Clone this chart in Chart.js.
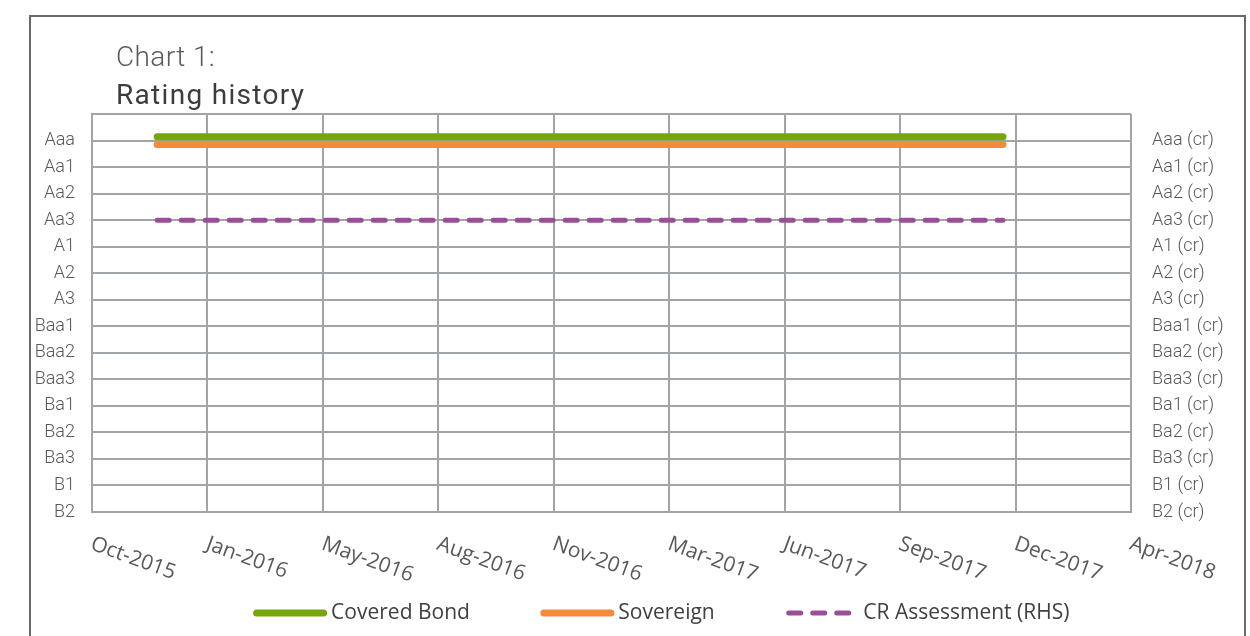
<!DOCTYPE html>
<html>
<head>
<meta charset="utf-8">
<title>Rating history</title>
<script src="https://cdn.jsdelivr.net/npm/chart.js@4.4.0/dist/chart.umd.min.js"></script>
<style>
  html, body { margin: 0; padding: 0; background: #ffffff; overflow: hidden; }
  #wrap { position: relative; width: 1250px; height: 636px; }
  #frame { position: absolute; left: 29px; top: 15px; width: 1217px; height: 700px;
           box-sizing: border-box; border: 2px solid #6a6a6a; }
  #c { position: absolute; left: 0; top: 0; }
</style>
</head>
<body>
<div id="wrap">
  <div id="frame"></div>
  <canvas id="c" width="1250" height="636"></canvas>
</div>
<script>
// ---- data ----
const titleLines = ['Chart 1:', 'Rating history'];

// rating scale, lowest first (value 0 = B2)
const ratingLabels = ['B2', 'B1', 'Ba3', 'Ba2', 'Ba1', 'Baa3', 'Baa2', 'Baa1',
                      'A3', 'A2', 'A1', 'Aa3', 'Aa2', 'Aa1', 'Aaa'];
const crLabels = ['B2 (cr)', 'B1 (cr)', 'Ba3 (cr)', 'Ba2 (cr)', 'Ba1 (cr)', 'Baa3 (cr)',
                  'Baa2 (cr)', 'Baa1 (cr)', 'A3 (cr)', 'A2 (cr)', 'A1 (cr)', 'Aa3 (cr)',
                  'Aa2 (cr)', 'Aa1 (cr)', 'Aaa (cr)'];

const xTickLabels = ['Oct-2015', 'Jan-2016', 'May-2016', 'Aug-2016', 'Nov-2016',
                     'Mar-2017', 'Jun-2017', 'Sep-2017', 'Dec-2017', 'Apr-2018'];

const historyDates = ['2015-12-08', '2017-12-17'];
const coveredBondRatings = ['Aaa', 'Aaa'];
const sovereignRatings = ['Aaa', 'Aaa'];
const crAssessmentRatings = ['Aa3 (cr)', 'Aa3 (cr)'];

const seriesNames = ['Covered Bond', 'Sovereign', 'CR Assessment (RHS)'];

// ---- axis set-up ----
const axisStart = Date.UTC(2015, 9, 12);   // first date tick
const tickStepDays = 101;                    // date-axis major unit
const DAY = 86400000;
const dayOf = s => (Date.parse(s + 'T00:00:00Z') - axisStart) / DAY;

// the two headline series share a level, so each is nudged a little apart
const OFFSET = 0.145;

const toPoints = (ratings, labels, shift) =>
  historyDates.map((d, i) => ({ x: dayOf(d), y: labels.indexOf(ratings[i]) + shift }));

const gridColor = '#a2a5a8';
const labelColor = '#595959';

const datasets = [
  {
    label: seriesNames[0],
    data: toPoints(coveredBondRatings, ratingLabels, OFFSET),
    borderColor: '#76a60c',
    borderWidth: 7,
    borderCapStyle: 'round',
    yAxisID: 'y'
  },
  {
    label: seriesNames[1],
    data: toPoints(sovereignRatings, ratingLabels, -OFFSET),
    borderColor: '#f58a3a',
    borderWidth: 7,
    borderCapStyle: 'round',
    yAxisID: 'y'
  },
  {
    label: seriesNames[2],
    data: toPoints(crAssessmentRatings, crLabels, 0),
    borderColor: '#9a4f97',
    borderWidth: 5,
    borderCapStyle: 'round',
    borderDash: [12, 12],
    yAxisID: 'y2'
  }
];
datasets.forEach(ds => { ds.pointRadius = 0; ds.fill = false; ds.tension = 0; });

// titles, slanted date labels and the legend row
const decorations = {
  id: 'decorations',
  afterDraw(chart) {
    const { ctx } = chart;
    const xs = chart.scales.x;
    ctx.save();
    ctx.textAlign = 'left';
    ctx.textBaseline = 'alphabetic';

    ctx.fillStyle = '#5a5a5a';
    ctx.font = '300 28px Roboto';
    ctx.letterSpacing = '0.4px';
    ctx.fillText(titleLines[0], 116, 66);
    ctx.fillStyle = '#3c3c3c';
    ctx.font = '400 28px Roboto';
    ctx.letterSpacing = '1.3px';
    ctx.fillText(titleLines[1], 116, 104);
    ctx.letterSpacing = '0px';

    // date labels, rotated clockwise from each tick
    ctx.font = '400 21px "Open Sans"';
    ctx.fillStyle = labelColor;
    xs.ticks.forEach((t, i) => {
      const px = xs.getPixelForTick(i);
      ctx.save();
      ctx.translate(px - 2.5, 549);
      ctx.rotate(20 * Math.PI / 180);
      ctx.fillText(xTickLabels[i], 0, 0);
      ctx.restore();
    });

    // legend
    const sampleLen = 67, textGap = 7.5, itemGap = 74, legendY = 613, centerX = 663;
    ctx.font = '400 21px "Open Sans"';
    ctx.textBaseline = 'middle';
    const items = chart.data.datasets.map(ds => ({ ds, w: ctx.measureText(ds.label).width }));
    const total = items.reduce((s, it) => s + sampleLen + textGap + it.w, 0) + itemGap * (items.length - 1);
    let x = centerX - total / 2;
    items.forEach(({ ds, w }) => {
      ctx.save();
      ctx.strokeStyle = ds.borderColor;
      ctx.lineWidth = ds.borderWidth;
      ctx.lineCap = 'round';
      ctx.setLineDash(ds.borderDash || []);
      ctx.beginPath();
      ctx.moveTo(x, legendY);
      ctx.lineTo(x + sampleLen, legendY);
      ctx.stroke();
      ctx.restore();
      ctx.fillStyle = '#404040';
      ctx.fillText(ds.label, x + sampleLen + textGap, legendY);
      x += sampleLen + textGap + w + itemGap;
    });
    ctx.restore();
  }
};

new Chart(document.getElementById('c'), {
  type: 'line',
  data: { datasets },
  plugins: [decorations],
  options: {
    responsive: false,
    animation: false,
    events: [],
    layout: { padding: { top: 114, left: 0, right: 0, bottom: 124 } },
    plugins: { legend: { display: false }, tooltip: { enabled: false }, title: { display: false } },
    scales: {
      x: {
        type: 'linear',
        min: 0,
        max: tickStepDays * (xTickLabels.length - 1),
        ticks: { display: false, stepSize: tickStepDays },
        grid: { color: gridColor, lineWidth: 2, drawTicks: false },
        border: { color: gridColor, width: 2 },
        afterFit(s) { s.height = 0; s.paddingLeft = 0; s.paddingRight = 0; }
      },
      y: {
        type: 'linear',
        position: 'left',
        min: 0,
        max: ratingLabels.length,
        ticks: {
          stepSize: 1,
          padding: 17,
          color: labelColor,
          font: { family: 'Roboto', weight: '300', size: 18 },
          callback: v => ratingLabels[v] ?? ''
        },
        grid: { color: gridColor, lineWidth: 2, drawTicks: false },
        border: { color: gridColor, width: 2 },
        afterFit(s) { s.width = 92; s.paddingTop = 0; s.paddingBottom = 0; }
      },
      y2: {
        type: 'linear',
        position: 'right',
        min: 0,
        max: crLabels.length,
        ticks: {
          stepSize: 1,
          padding: 21,
          color: labelColor,
          font: { family: 'Roboto', weight: '300', size: 18 },
          callback: v => crLabels[v] ?? ''
        },
        grid: { display: false, drawTicks: false },
        border: { display: false },
        afterFit(s) { s.width = 119; s.paddingTop = 0; s.paddingBottom = 0; }
      }
    }
  }
});
</script>
</body>
</html>
